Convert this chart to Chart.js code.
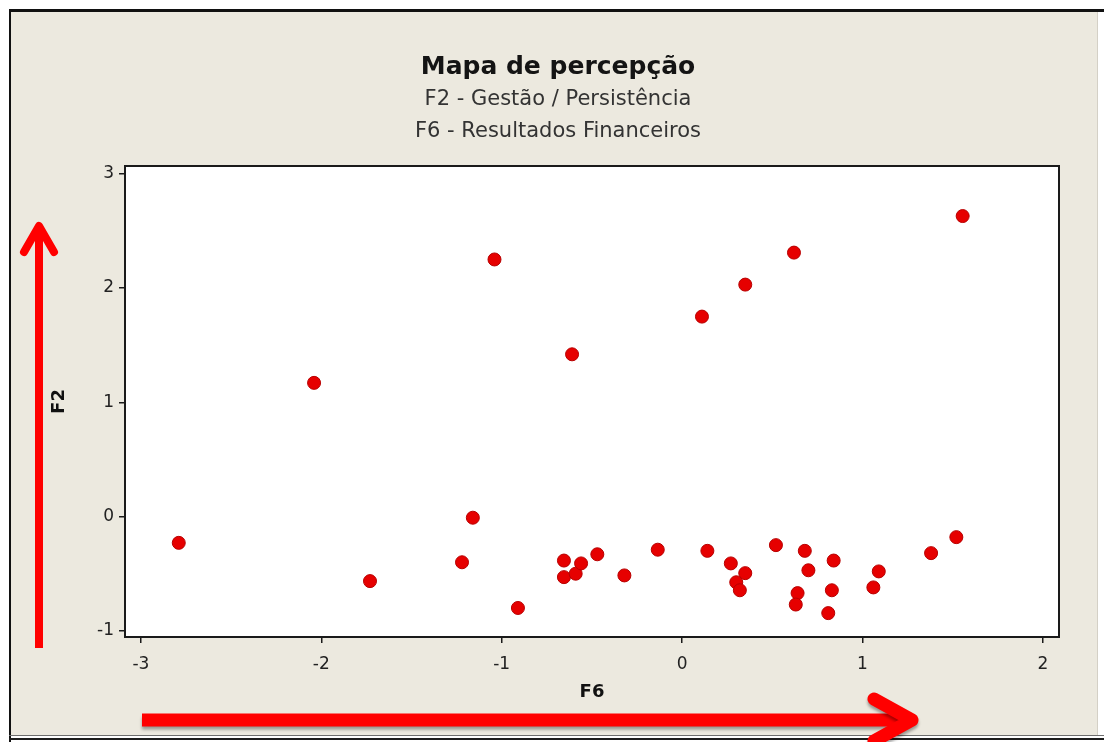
<!DOCTYPE html>
<html>
<head>
<meta charset="utf-8">
<script src="https://cdn.jsdelivr.net/npm/chart.js@4.4.1/dist/chart.umd.min.js"></script>
<style>
  html, body { margin: 0; padding: 0; background: #ffffff; }
  #wrap { width: 1104px; height: 742px; }
</style>
</head>
<body>
<div id="wrap"><canvas id="chart" width="1104" height="742"></canvas></div>
<script>
// Titles and axis names
const titleText = 'Mapa de percepção';
const subtitleLines = ['F2 - Gestão / Persistência', 'F6 - Resultados Financeiros'];
const xAxisName = 'F6';
const yAxisName = 'F2';

// Factor scores per respondent: F6 (horizontal) and F2 (vertical)
const f6Scores = [
  -2.79, -2.04, -1.73, -1.22, -1.16, -1.04, -0.91, -0.61,
  -0.655, -0.655, -0.59, -0.56, -0.47, -0.32, -0.135, 0.11,
  0.14, 0.27, 0.35, 0.30, 0.32, 0.35, 0.52, 0.62,
  0.68, 0.70, 0.84, 0.64, 0.63, 0.83, 0.81, 1.09,
  1.06, 1.38, 1.52, 1.555
];
const f2Scores = [
  -0.23, 1.17, -0.565, -0.40, -0.01, 2.25, -0.80, 1.42,
  -0.385, -0.53, -0.50, -0.41, -0.33, -0.515, -0.29, 1.75,
  -0.30, -0.41, -0.495, -0.575, -0.645, 2.03, -0.25, 2.31,
  -0.30, -0.47, -0.385, -0.67, -0.77, -0.645, -0.845, -0.48,
  -0.62, -0.32, -0.18, 2.63
];

// Axis tick values and visible range
const xTickValues = [-3, -2, -1, 0, 1, 2];
const yTickValues = [-1, 0, 1, 2, 3];
const xRange = [-3.088, 2.089];
const yRange = [-1.054, 3.068];

const points = f6Scores.map((x, i) => ({ x: x, y: f2Scores[i] }));

const FONT = 'DejaVu Sans';

// Window frame, plot background and plot border
const framePlugin = {
  id: 'frame',
  beforeDraw(chart) {
    const ctx = chart.ctx;
    ctx.save();
    ctx.fillStyle = '#ffffff';
    ctx.fillRect(0, 0, chart.width, chart.height);
    ctx.fillStyle = '#ece9df';
    ctx.fillRect(10, 10, 1088, 726);
    ctx.fillStyle = '#111111';
    ctx.fillRect(9, 9, 1095, 3);
    ctx.fillRect(9, 9, 2, 733);
    ctx.fillStyle = '#6d6d6d';
    ctx.fillRect(9, 735, 1095, 1);
    ctx.fillStyle = '#1d1d1d';
    ctx.fillRect(9, 738, 1095, 2);
    ctx.fillStyle = '#d4d0c6';
    ctx.fillRect(1097, 12, 1, 723);
    const a = chart.chartArea;
    ctx.fillStyle = '#ffffff';
    ctx.fillRect(a.left, a.top, a.right - a.left, a.bottom - a.top);
    ctx.restore();
  },
  beforeDatasetsDraw(chart) {
    const ctx = chart.ctx;
    const a = chart.chartArea;
    ctx.save();
    ctx.strokeStyle = '#1a1a1a';
    ctx.lineWidth = 2;
    ctx.strokeRect(a.left, a.top, a.right - a.left, a.bottom - a.top);
    ctx.restore();
  }
};

// Red direction arrows along both axes
const arrowsPlugin = {
  id: 'arrows',
  afterDraw(chart) {
    const ctx = chart.ctx;
    ctx.save();
    ctx.strokeStyle = '#ff0000';
    // vertical arrow
    ctx.lineWidth = 8;
    ctx.lineCap = 'butt';
    ctx.beginPath();
    ctx.moveTo(39, 648);
    ctx.lineTo(39, 230);
    ctx.stroke();
    ctx.lineCap = 'round';
    ctx.lineJoin = 'round';
    ctx.beginPath();
    ctx.moveTo(24, 252);
    ctx.lineTo(39, 226);
    ctx.lineTo(54, 252);
    ctx.stroke();
    // horizontal arrow
    ctx.shadowColor = 'rgba(0,0,0,0.35)';
    ctx.shadowOffsetY = 3;
    ctx.shadowBlur = 3;
    ctx.lineWidth = 13;
    ctx.lineCap = 'butt';
    ctx.beginPath();
    ctx.moveTo(142, 720);
    ctx.lineTo(905, 720);
    ctx.stroke();
    ctx.lineCap = 'round';
    ctx.beginPath();
    ctx.moveTo(874, 699);
    ctx.lineTo(912, 720);
    ctx.lineTo(874, 741);
    ctx.stroke();
    ctx.restore();
  }
};

new Chart(document.getElementById('chart'), {
  type: 'scatter',
  data: {
    datasets: [{
      data: points,
      pointRadius: 6.5,
      pointHoverRadius: 6.5,
      backgroundColor: '#e60000',
      borderColor: '#b80000',
      borderWidth: 1
    }]
  },
  options: {
    responsive: false,
    animation: false,
    events: [],
    layout: { padding: { top: 52, left: 57, right: 45, bottom: 30 } },
    plugins: {
      legend: { display: false },
      tooltip: { enabled: false },
      title: {
        display: true,
        text: titleText,
        color: '#141414',
        font: { family: FONT, size: 25, weight: 'bold', lineHeight: 1.2 },
        padding: { top: 0, bottom: 2 }
      },
      subtitle: {
        display: true,
        text: subtitleLines,
        color: '#333333',
        font: { family: FONT, size: 21, lineHeight: 1.5 },
        padding: { top: 0, bottom: 19 }
      }
    },
    scales: {
      x: {
        type: 'linear',
        min: xRange[0],
        max: xRange[1],
        afterBuildTicks: s => { s.ticks = xTickValues.map(v => ({ value: v })); },
        afterFit: s => { s.height = 75; },
        border: { display: false },
        grid: { drawOnChartArea: false, drawTicks: true, tickLength: 6, color: '#1a1a1a', lineWidth: 1.5 },
        ticks: { color: '#222222', font: { family: FONT, size: 17 }, padding: 11, maxRotation: 0 },
        title: {
          display: true,
          text: xAxisName,
          color: '#111111',
          font: { family: FONT, size: 18, weight: 'bold', lineHeight: 1.2 },
          padding: { top: 0, bottom: 9 }
        }
      },
      y: {
        type: 'linear',
        min: yRange[0],
        max: yRange[1],
        afterBuildTicks: s => { s.ticks = yTickValues.map(v => ({ value: v })); },
        afterFit: s => { s.width = 68; },
        border: { display: false },
        grid: { drawOnChartArea: false, drawTicks: true, tickLength: 6, color: '#1a1a1a', lineWidth: 1.5 },
        ticks: { color: '#222222', font: { family: FONT, size: 17 }, padding: 5 },
        title: {
          display: true,
          text: yAxisName,
          color: '#111111',
          font: { family: FONT, size: 18, weight: 'bold', lineHeight: 1.2 },
          padding: { top: -8, bottom: 0 }
        }
      }
    }
  },
  plugins: [framePlugin, arrowsPlugin]
});
</script>
</body>
</html>
